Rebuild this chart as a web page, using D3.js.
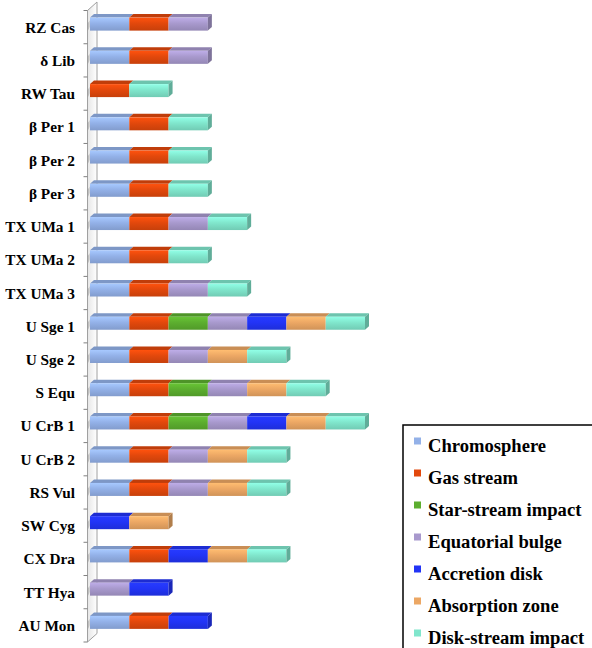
<!DOCTYPE html>
<html><head><meta charset="utf-8">
<script src="https://cdn.jsdelivr.net/npm/d3@7"></script>
<style>body{margin:0;background:#fff}svg{display:block}
text{font-family:"Liberation Serif","DejaVu Serif",serif;font-weight:bold}</style>
</head><body>
<svg id="c" width="592" height="648"></svg>
<script>
const categories = ["RZ Cas","δ Lib","RW Tau","β Per 1","β Per 2","β Per 3","TX UMa 1","TX UMa 2","TX UMa 3","U Sge 1","U Sge 2","S Equ","U CrB 1","U CrB 2","RS Vul","SW Cyg","CX Dra","TT Hya","AU Mon"];
const seriesNames = ["Chromosphere","Gas stream","Star-stream impact","Equatorial bulge","Accretion disk","Absorption zone","Disk-stream impact"];
const chromosphere     = [1,1,0,1,1,1,1,1,1,1,1,1,1,1,1,0,1,0,1];
const gasStream        = [1,1,1,1,1,1,1,1,1,1,1,1,1,1,1,0,1,0,1];
const starStreamImpact = [0,0,0,0,0,0,0,0,0,1,0,1,1,0,0,0,0,0,0];
const equatorialBulge  = [1,1,0,0,0,0,1,0,1,1,1,1,1,1,1,0,0,1,0];
const accretionDisk    = [0,0,0,0,0,0,0,0,0,1,0,0,1,0,0,1,1,1,1];
const absorptionZone   = [0,0,0,0,0,0,0,0,0,1,1,1,1,1,1,1,1,0,0];
const diskStreamImpact = [0,0,1,1,1,1,1,1,1,1,1,1,1,1,1,0,1,0,0];
const seriesValues = [chromosphere,gasStream,starStreamImpact,equatorialBulge,accretionDisk,absorptionZone,diskStreamImpact];
const colors = ["#93b1e8","#e2480c","#5cae2f","#a899cd","#2234f6","#eca764","#80e6cc"];

const rows = categories.map((c,i)=>{const o={cat:c};seriesNames.forEach((s,j)=>o[s]=seriesValues[j][i]);return o;});
const stacked = d3.stack().keys(seriesNames)(rows);

const svg = d3.select("#c");
const defs = svg.append("defs");
colors.forEach((c,i)=>{
  const g = defs.append("linearGradient").attr("id","g"+i).attr("x1",0).attr("y1",0).attr("x2",0).attr("y2",1);
  g.append("stop").attr("offset","0%").attr("stop-color",d3.color(c).brighter(0.35));
  g.append("stop").attr("offset","45%").attr("stop-color",c);
  g.append("stop").attr("offset","100%").attr("stop-color",d3.color(c).darker(0.35));
});
const wg = defs.append("linearGradient").attr("id","wall").attr("x1",0).attr("y1",0).attr("x2",1).attr("y2",0);
wg.append("stop").attr("offset","0%").attr("stop-color","#e6e6e6");
wg.append("stop").attr("offset","100%").attr("stop-color","#ffffff");
const sg = defs.append("linearGradient").attr("id","shad").attr("x1",0).attr("y1",0).attr("x2",1).attr("y2",0);
sg.append("stop").attr("offset","0%").attr("stop-color","#9a9a9a");
sg.append("stop").attr("offset","100%").attr("stop-color","#ffffff").attr("stop-opacity",0);

const y = d3.scaleBand().domain(categories).range([10.5,642]).padding(0);
const x = d3.scaleLinear().domain([0,7]).range([90,365]);
const DX = 9.5, DY = -8.5;   // wall depth
const dx = 4, dy = -3.5;     // bar depth
const bh = 13;

const x0 = 87.5;
// wall
svg.append("path")
  .attr("d",`M${x0},${y.range()[0]}L${x0+DX},${y.range()[0]+DY}L${x0+DX},${y.range()[1]+DY}L${x0},${y.range()[1]}Z`)
  .attr("fill","url(#wall)").attr("stroke","#a0a0a0").attr("stroke-width",1);
// shadows on wall
categories.forEach(c=>{
  const yt = y(c)+y.bandwidth()/2-9.5;
  svg.append("path")
    .attr("d",`M${x0},${yt+bh+1}L${x0+6},${yt+2}L${x0+6},${yt-2}L${x0},${yt+6}Z`)
    .attr("fill","url(#shad)").attr("opacity",0.8);
});
// ticks
const tickYs = categories.map(c=>y(c)).concat([y.range()[1]]);
svg.append("g").selectAll("line").data(tickYs).join("line")
  .attr("x1",x0-4).attr("x2",x0).attr("y1",d=>d).attr("y2",d=>d)
  .attr("stroke","#808080").attr("stroke-width",1);

// labels
svg.append("g").selectAll("text").data(categories).join("text")
  .attr("x",75).attr("y",d=>y(d)+y.bandwidth()/2+5.5)
  .attr("text-anchor","end")
  .style("font-size","15.3px").attr("fill","#000")
  .text(d=>d);

// bars
const gBars = svg.append("g");
stacked.forEach((s,si)=>{
  const col = colors[si];
  s.forEach((d,i)=>{
    if(d[1]-d[0] <= 0) return;
    const cat = categories[i];
    const xa = x(d[0]), xb = x(d[1]);
    const yt = y(cat)+y.bandwidth()/2-9.5;
    gBars.append("path")
      .attr("d",`M${xa},${yt}L${xb},${yt}L${xb+dx},${yt+dy}L${xa+dx},${yt+dy}Z`)
      .attr("fill",d3.color(col).darker(0.45));
    gBars.append("rect").attr("x",xa).attr("y",yt).attr("width",xb-xa).attr("height",bh)
      .attr("fill",`url(#g${si})`);
  });
});
// side face at end of each bar
categories.forEach((cat,i)=>{
  let last=-1, end=0;
  stacked.forEach((s,si)=>{ if(s[i][1]-s[i][0]>0){last=si; end=s[i][1];} });
  if(last<0) return;
  const xb = x(end), yt = y(cat)+y.bandwidth()/2-9.5;
  gBars.append("path")
    .attr("d",`M${xb},${yt}L${xb+dx},${yt+dy}L${xb+dx},${yt+dy+bh}L${xb},${yt+bh}Z`)
    .attr("fill",d3.color(colors[last]).darker(0.8));
});

// legend
const lg = svg.append("g");
lg.append("rect").attr("x",403).attr("y",425).attr("width",200).attr("height",240)
  .attr("fill","#fff").attr("stroke","#000").attr("stroke-width",1.5);
const ly = d3.scalePoint().domain(seriesNames).range([452,644]);
seriesNames.forEach((s,i)=>{
  lg.append("rect").attr("x",414).attr("y",ly(s)-14.5).attr("width",7).attr("height",7)
    .attr("fill",colors[i]);
  lg.append("text").attr("x",428).attr("y",ly(s))
    .style("font-size","18.6px").attr("fill","#000")
    .text(s);
});
</script>
</body></html>
